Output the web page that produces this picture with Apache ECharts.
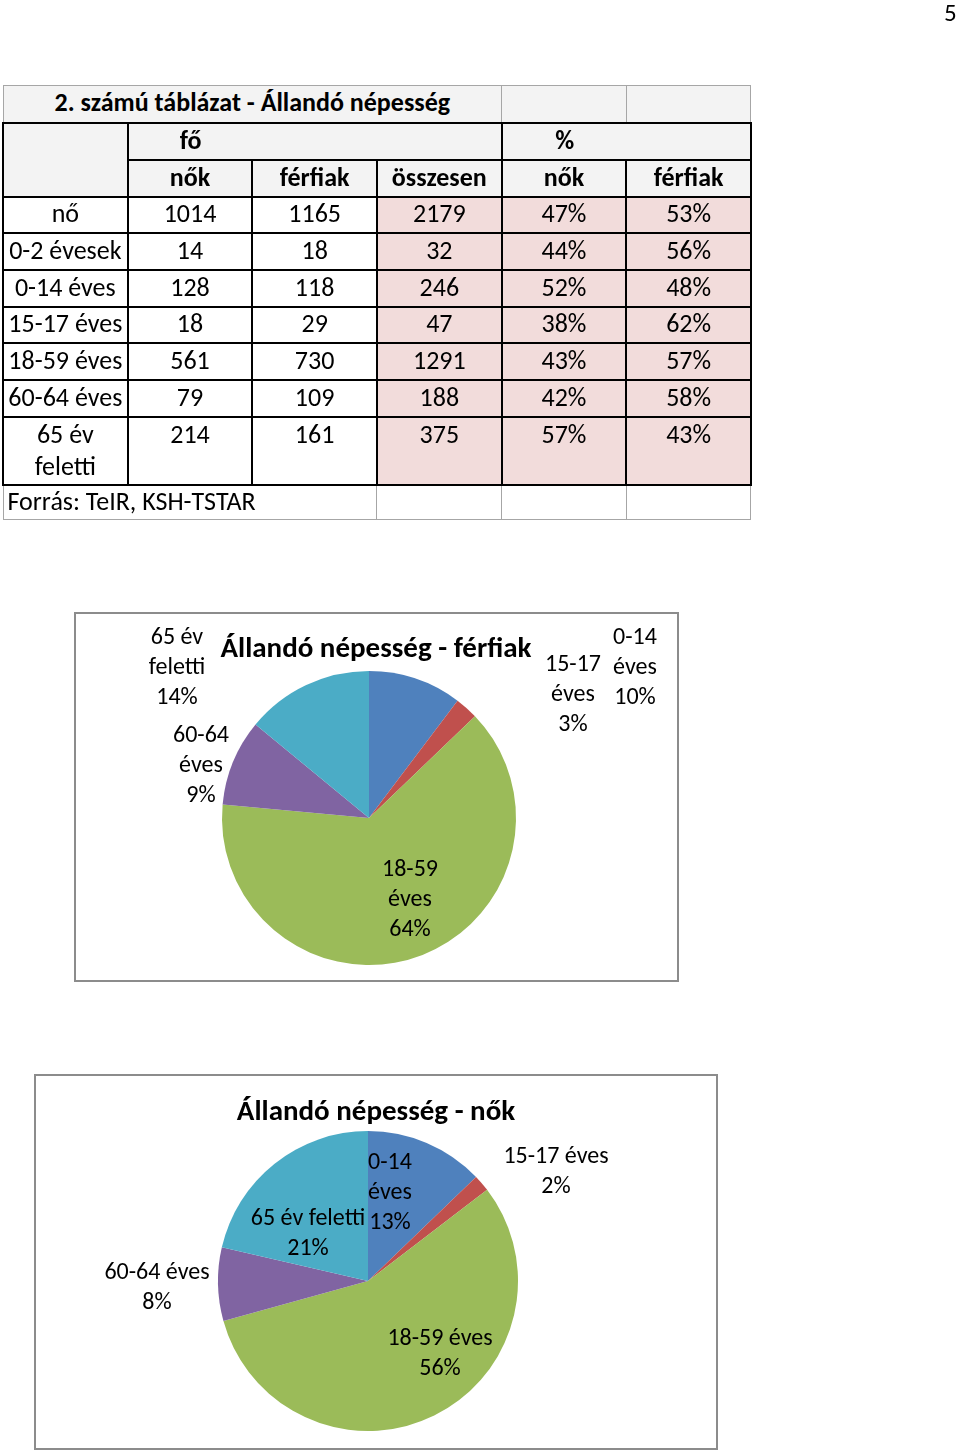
<!DOCTYPE html>
<html>
<head>
<meta charset="utf-8">
<script src="https://cdn.jsdelivr.net/npm/echarts@6/dist/echarts.min.js"></script>
<style>
  html, body { margin:0; padding:0; background:#fff; }
  body { width:960px; height:1452px; position:relative; overflow:hidden; font-family: Carlito, Lato, "Liberation Sans", sans-serif; }
  #chart { position:absolute; left:0; top:0; width:960px; height:1452px; }
  #pageno { position:absolute; left:944px; top:-3px; font-size:25px; color:#000; }
  table { position:absolute; left:2px; top:85px; border-collapse:collapse; table-layout:fixed; width:748px; font-size:26px; color:#000; }
  td { padding:0 0 3px 0; text-align:center; vertical-align:middle; border:2px solid #000; overflow:hidden; white-space:nowrap; line-height:30px; }
  td.thin { border:1px solid #a6a6a6; }
  tr.title td { background:#f3f3f3; }
  tr.hdr td { background:#f3f3f3; font-weight:bold; }
  td.pink { background:#f2dcdb; }
  td.lab { white-space:normal; }
  td.top { vertical-align:top; padding-top:1px; padding-bottom:0; }
  td.lab.top { line-height:32px; padding-top:0; }
  .inner { display:inline-block; width:124px; text-align:center; }
</style>
</head>
<body>
<div id="chart"></div>
<div id="pageno">5</div>
<table id="tbl"></table>
<script>
// ---- table data ----
const tableTitle = '2. számú táblázat - Állandó népesség';
const groupHeaders = ['fő', '%'];
const colHeaders = ['nők', 'férfiak', 'összesen', 'nők', 'férfiak'];
const rowLabels = ['nő', '0-2 évesek', '0-14 éves', '15-17 éves', '18-59 éves', '60-64 éves', '65 év feletti'];
const nokFo = [1014, 14, 128, 18, 561, 79, 214];
const ferfiakFo = [1165, 18, 118, 29, 730, 109, 161];
const osszesen = [2179, 32, 246, 47, 1291, 188, 375];
const nokPct = ['47%', '44%', '52%', '38%', '43%', '42%', '57%'];
const ferfiakPct = ['53%', '56%', '48%', '62%', '57%', '58%', '43%'];
const sourceText = 'Forrás: TeIR, KSH-TSTAR';

// ---- chart data ----
const categories = ['0-14 éves', '15-17 éves', '18-59 éves', '60-64 éves', '65 év feletti'];
const ferfiakValues = [118, 29, 730, 109, 161];
const nokValues = [128, 18, 561, 79, 214];
const chartTitles = ['Állandó népesség - férfiak', 'Állandó népesség - nők'];
const colors = ['#4f81bd', '#c0504d', '#9bbb59', '#8064a2', '#4bacc6'];

// build table
(function () {
  const t = document.getElementById('tbl');
  let h = '<colgroup>' + '<col style="width:124.67px">'.repeat(6) + '</colgroup>';
  h += '<tr class="title" style="height:37px"><td class="thin" colspan="4" style="font-weight:bold">' + tableTitle + '</td><td class="thin"></td><td class="thin"></td></tr>';
  h += '<tr class="hdr" style="height:37px"><td rowspan="2"></td><td colspan="3" style="text-align:left"><span class="inner">' + groupHeaders[0] + '</span></td><td colspan="2" style="text-align:left"><span class="inner">' + groupHeaders[1] + '</span></td></tr>';
  h += '<tr class="hdr" style="height:37px">' + colHeaders.map(c => '<td>' + c + '</td>').join('') + '</tr>';
  for (let i = 0; i < rowLabels.length; i++) {
    const last = i === rowLabels.length - 1;
    const cls = last ? ' top' : '';
    const hh = last ? 68 : 36.7;
    const lab = last ? rowLabels[i].replace(/ (\S+)$/, '<br>$1') : rowLabels[i];
    h += '<tr style="height:' + hh + 'px">' +
      '<td class="lab' + cls + '">' + lab + '</td>' +
      '<td class="' + cls + '">' + nokFo[i] + '</td>' +
      '<td class="' + cls + '">' + ferfiakFo[i] + '</td>' +
      '<td class="pink' + cls + '">' + osszesen[i] + '</td>' +
      '<td class="pink' + cls + '">' + nokPct[i] + '</td>' +
      '<td class="pink' + cls + '">' + ferfiakPct[i] + '</td></tr>';
  }
  h += '<tr style="height:35px"><td class="thin" colspan="3" style="text-align:left;padding-left:4px">' + sourceText + '</td><td class="thin"></td><td class="thin"></td><td class="thin"></td></tr>';
  t.innerHTML = h;
})();

// label placement (center x, first line center y) per slice
const menLabelPos = [[635, 638], [573, 665], [410, 870], [201, 736], [177, 638]];
const womenLabelPos = [[390, 1163], [556, 1157], [440, 1339], [157, 1273], [308, 1219]];
const menWrap = [true, true, true, true, true];
const womenWrap = [true, false, false, false, false];

const FONT = 'Carlito, Lato, "Liberation Sans", sans-serif';

function wrapName(n) {
  const k = n.lastIndexOf(' ');
  return n.slice(0, k) + '\n' + n.slice(k + 1);
}

function makeSeries(values, center, radius, pos, wrap) {
  return {
    type: 'pie',
    center: center,
    radius: radius,
    startAngle: 90,
    clockwise: true,
    percentPrecision: 0,
    silent: true,
    animation: false,
    data: categories.map((c, i) => ({ name: c, value: values[i], itemStyle: { color: colors[i] } })),
    itemStyle: { borderWidth: 0 },
    label: {
      show: true,
      color: '#000',
      fontSize: 24,
      fontFamily: FONT,
      lineHeight: 30,
      align: 'center',
      formatter: p => (wrap[p.dataIndex] ? wrapName(p.name) : p.name) + '\n' + p.percent + '%'
    },
    labelLine: { show: false },
    labelLayout: p => ({ x: pos[p.dataIndex][0], y: pos[p.dataIndex][1] - 15, align: 'center', verticalAlign: 'top' })
  };
}

const chart = echarts.init(document.getElementById('chart'), null, { renderer: 'canvas' });
chart.setOption({
  animation: false,
  graphic: [
    { type: 'rect', shape: { x: 75, y: 613, width: 603, height: 368 }, style: { fill: '#fff', stroke: '#8c8c8c', lineWidth: 2 }, z: -10 },
    { type: 'rect', shape: { x: 35, y: 1075, width: 682, height: 374 }, style: { fill: '#fff', stroke: '#8c8c8c', lineWidth: 2 }, z: -10 },
    { type: 'text', x: 376, y: 650, style: { text: chartTitles[0], font: 'bold 29px ' + FONT, fill: '#000', align: 'center', verticalAlign: 'middle' } },
    { type: 'text', x: 376, y: 1113, style: { text: chartTitles[1], font: 'bold 29px ' + FONT, fill: '#000', align: 'center', verticalAlign: 'middle' } }
  ],
  series: [
    makeSeries(ferfiakValues, [369, 818], 147, menLabelPos, menWrap),
    makeSeries(nokValues, [368, 1281], 150, womenLabelPos, womenWrap)
  ]
});
</script>
</body>
</html>
